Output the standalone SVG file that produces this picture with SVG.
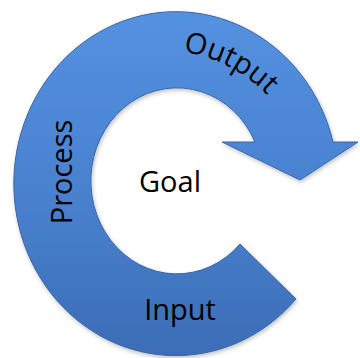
<svg xmlns="http://www.w3.org/2000/svg" xmlns:xlink="http://www.w3.org/1999/xlink" width="360" height="358" viewBox="0 0 360 358">
  <defs>
    <linearGradient id="blue" x1="0" y1="0" x2="0" y2="1">
      <stop offset="0" stop-color="#5491DF"/>
      <stop offset="0.5" stop-color="#4A82D0"/>
      <stop offset="1" stop-color="#3C6DB6"/>
    </linearGradient>
    <filter id="shadow" x="-10%" y="-10%" width="120%" height="120%">
      <feGaussianBlur in="SourceAlpha" stdDeviation="2"/>
      <feOffset dx="1" dy="2" result="b"/>
      <feComponentTransfer><feFuncA type="linear" slope="0.25"/></feComponentTransfer>
      <feMerge><feMergeNode/><feMergeNode in="SourceGraphic"/></feMerge>
    </filter>
    <path id="outputArc" d="M 85 70 A 150 150 0 0 1 307.7 174"/>
  </defs>
  <style>
    .lbl { font-family: "Open Sans", "Noto Sans", sans-serif; font-size: 29px; fill: #000; }
  </style>
  <g id="cycle-arrow" filter="url(#shadow)">
    <path d="M 296 299 A 162 172 0 1 1 333 142 L 358 142 L 300 180 L 222 142 L 255 142 A 86 93 0 1 0 240 244 Z"
          fill="url(#blue)" stroke="#3866AA" stroke-width="1"/>
  </g>
  <g id="output">
    <text class="lbl" text-anchor="middle"><textPath xlink:href="#outputArc" startOffset="149.7">Output</textPath></text>
  </g>
  <g id="process">
    <text class="lbl" text-anchor="middle" transform="translate(72 172) rotate(-90)">Process</text>
  </g>
  <g id="input">
    <text class="lbl" x="180" y="320" text-anchor="middle">Input</text>
  </g>
  <g id="goal">
    <text class="lbl" x="170" y="192" text-anchor="middle" font-size="30">Goal</text>
  </g>
</svg>
